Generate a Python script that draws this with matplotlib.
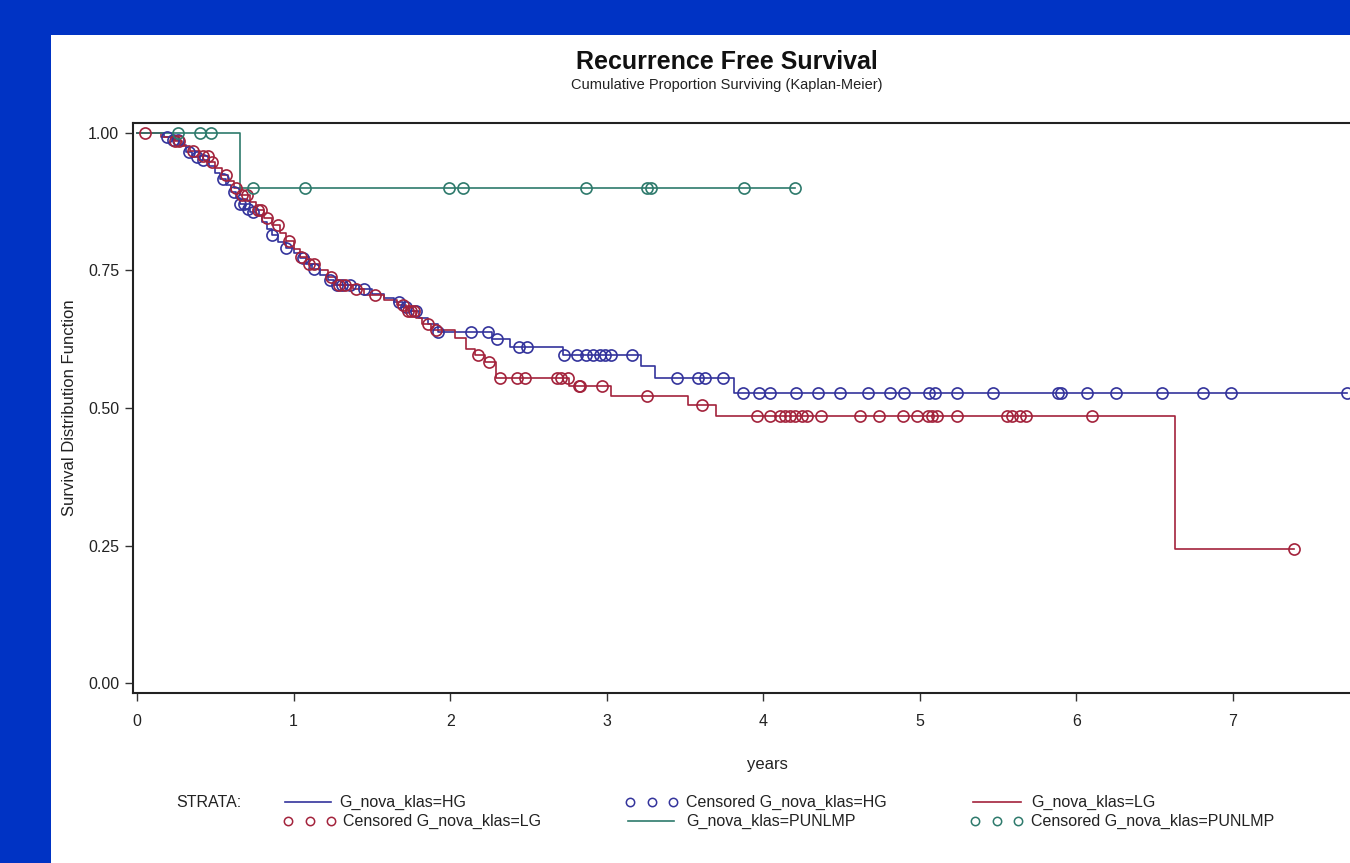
import numpy as np
import matplotlib
matplotlib.use("Agg")
import matplotlib.pyplot as plt
from matplotlib.lines import Line2D
from matplotlib.patches import Rectangle

plt.rcParams["font.family"] = ["Liberation Sans", "DejaVu Sans"]

# Kaplan-Meier steps: event times (years) and survival after each event
hg_t = [0.17, 0.22, 0.27, 0.31, 0.35, 0.40, 0.46, 0.50, 0.53, 0.57, 0.60, 0.63, 0.66, 0.69,
        0.72, 0.76, 0.80, 0.83, 0.86, 0.90, 0.95, 1.00, 1.04, 1.08, 1.12, 1.17, 1.22, 1.26,
        1.42, 1.50, 1.58, 1.64, 1.70, 1.74, 1.80, 1.86, 1.92, 2.27, 2.38, 2.72, 3.22, 3.31, 3.81]
hg_s = [0.993, 0.987, 0.978, 0.966, 0.957, 0.950, 0.940, 0.928, 0.916, 0.905, 0.893, 0.882,
        0.870, 0.862, 0.856, 0.850, 0.838, 0.826, 0.815, 0.802, 0.790, 0.781, 0.772, 0.762,
        0.752, 0.742, 0.732, 0.724, 0.716, 0.708, 0.700, 0.692, 0.684, 0.676, 0.664, 0.652,
        0.638, 0.625, 0.611, 0.596, 0.577, 0.555, 0.527]
hg_cens = [0.19, 0.23, 0.26, 0.33, 0.38, 0.42, 0.55, 0.62, 0.66, 0.68, 0.71, 0.74, 0.86, 0.95,
           1.06, 1.13, 1.23, 1.28, 1.31, 1.36, 1.45, 1.67, 1.72, 1.78, 1.92, 2.13, 2.24, 2.30,
           2.44, 2.49, 2.73, 2.81, 2.87, 2.91, 2.96, 2.99, 3.03, 3.16, 3.45, 3.58, 3.63, 3.74,
           3.87, 3.97, 4.04, 4.21, 4.35, 4.49, 4.67, 4.81, 4.90, 5.06, 5.10, 5.24, 5.47, 5.88,
           5.90, 6.07, 6.25, 6.55, 6.81, 6.99, 7.73]

lg_t = [0.15, 0.24, 0.29, 0.34, 0.40, 0.46, 0.50, 0.54, 0.58, 0.62, 0.66, 0.72, 0.76, 0.81,
        0.86, 0.91, 0.95, 1.00, 1.04, 1.10, 1.16, 1.22, 1.27, 1.38, 1.45, 1.58, 1.66, 1.72,
        1.78, 1.82, 1.88, 2.03, 2.10, 2.16, 2.22, 2.29, 2.76, 3.03, 3.52, 3.70, 6.63]
lg_s = [0.993, 0.985, 0.976, 0.967, 0.958, 0.948, 0.936, 0.924, 0.912, 0.900, 0.888, 0.874,
        0.860, 0.846, 0.833, 0.818, 0.803, 0.789, 0.775, 0.762, 0.750, 0.738, 0.724, 0.716,
        0.705, 0.697, 0.688, 0.676, 0.664, 0.652, 0.642, 0.628, 0.607, 0.596, 0.584, 0.555,
        0.540, 0.522, 0.505, 0.486, 0.243]
lg_cens = [0.05, 0.24, 0.27, 0.36, 0.42, 0.45, 0.48, 0.57, 0.63, 0.67, 0.70, 0.77, 0.79, 0.83,
           0.90, 0.97, 1.05, 1.10, 1.13, 1.24, 1.29, 1.33, 1.40, 1.52, 1.70, 1.73, 1.75, 1.77,
           1.86, 1.91, 2.18, 2.25, 2.32, 2.43, 2.48, 2.68, 2.71, 2.75, 2.82, 2.83, 2.97, 3.26,
           3.61, 3.96, 4.04, 4.11, 4.14, 4.17, 4.20, 4.25, 4.28, 4.37, 4.62, 4.74, 4.89, 4.98,
           5.05, 5.08, 5.11, 5.24, 5.56, 5.59, 5.64, 5.68, 6.10, 7.39]

pun_t = [0.66]
pun_s = [0.90]
pun_cens = [0.26, 0.40, 0.47, 0.74, 1.07, 1.99, 2.08, 2.87, 3.26, 3.28, 3.88, 4.20]

x_ticks = [0, 1, 2, 3, 4, 5, 6, 7]
y_ticks = [0.0, 0.25, 0.5, 0.75, 1.0]
y_labels = ["0.00", "0.25", "0.50", "0.75", "1.00"]

groups = [
    ("HG", hg_t, hg_s, hg_cens, "#34349c"),
    ("LG", lg_t, lg_s, lg_cens, "#a3233c"),
    ("PUNLMP", pun_t, pun_s, pun_cens, "#2e7a6c"),
]

W, H = 1350, 863
TXT = "#222222"
fig = plt.figure(figsize=(W / 100, H / 100), dpi=100, facecolor="#0033c4")
fig.add_artist(Rectangle((51 / W, 0), 1, 1 - 35 / H, transform=fig.transFigure,
                         facecolor="white", edgecolor="none", zorder=0))

# axes runs past the right edge, as in the cropped original
ax = fig.add_axes([133 / W, 1 - 693 / H, (1402 - 133) / W, (693 - 123) / H])
ax.set_xlim(-0.026, 8.08)
ax.set_ylim(-0.018, 1.018)

for name, t, s, cens, col in groups:
    t = np.asarray(t)
    s = np.asarray(s)
    cens = np.asarray(cens)
    end = max(t.max(), cens.max())
    xs = np.r_[0, t, end]
    ys = np.r_[1, s, s[-1]]
    ax.step(xs, ys, where="post", color=col, lw=1.2, zorder=3)
    idx = np.searchsorted(t, cens, side="right")
    cy = np.r_[1, s][idx]
    ax.plot(cens, cy, ls="none", marker="o", ms=8, mfc="none", mec=col, mew=1.2, zorder=4)

ax.set_xticks(x_ticks)
ax.set_yticks(y_ticks)
ax.set_yticklabels(y_labels)
ax.tick_params(direction="out", length=6, width=1, color="#333333", labelsize=11.5,
               labelcolor=TXT, pad=4)
ax.tick_params(axis="x", pad=9)
for sp in ax.spines.values():
    sp.set_color(TXT)
    sp.set_linewidth(1.5)

ax.set_xlabel("years", fontsize=12, color=TXT, labelpad=20)
fig.text(70 / W, 1 - 408 / H, "Survival Distribution Function", rotation=90,
         ha="center", va="center", fontsize=12, color=TXT)

fig.text(727 / W, 1 - 62 / H, "Recurrence Free Survival", ha="center", va="center",
         fontsize=18, fontweight="bold", color="#111111")
fig.text(727 / W, 1 - 85 / H, "Cumulative Proportion Surviving (Kaplan-Meier)",
         ha="center", va="center", fontsize=10.5, color=TXT)

# legend drawn by hand in SAS style
row1, row2 = 1 - 802 / H, 1 - 821 / H
fig.text(176 / W, row1, "STRATA:", ha="left", va="center", fontsize=11.5, color=TXT)


def leg_line(x0, x1, y, col, label, tx):
    fig.add_artist(Line2D([x0 / W, x1 / W], [y, y], color=col, lw=1.2,
                          transform=fig.transFigure))
    fig.text(tx / W, y, label, ha="left", va="center", fontsize=11.5, color=TXT)


def leg_circ(x0, x1, y, col, label, tx):
    xs = np.linspace(x0, x1, 3) / W
    fig.add_artist(Line2D(xs, [y] * 3, ls="none", marker="o", ms=6, mfc="none", mec=col,
                          mew=1.1, transform=fig.transFigure))
    fig.text(tx / W, y, label, ha="left", va="center", fontsize=11.5, color=TXT)


leg_line(285, 331, row1, groups[0][4], "G_nova_klas=HG", 339)
leg_circ(630, 673, row1, groups[0][4], "Censored G_nova_klas=HG", 686)
leg_line(973, 1021, row1, groups[1][4], "G_nova_klas=LG", 1031)
leg_circ(288, 331, row2, groups[1][4], "Censored G_nova_klas=LG", 343)
leg_line(628, 674, row2, groups[2][4], "G_nova_klas=PUNLMP", 686)
leg_circ(975, 1018, row2, groups[2][4], "Censored G_nova_klas=PUNLMP", 1031)

fig.savefig("out.png", dpi=100, facecolor=fig.get_facecolor())
